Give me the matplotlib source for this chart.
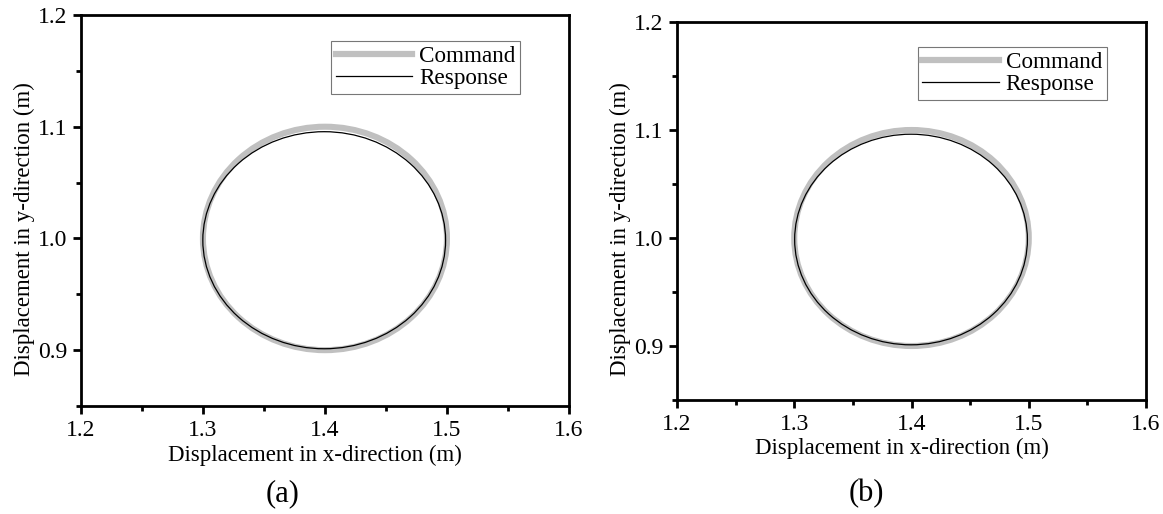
import matplotlib.pyplot as plt
from matplotlib.patches import Ellipse
from matplotlib.lines import Line2D
from matplotlib.ticker import MultipleLocator

plt.rcParams['font.family'] = ['Liberation Serif', 'DejaVu Serif']

# trajectory ellipses: center x, center y, width, height (m)
command = [1.400, 1.000, 0.200, 0.200]
response_a = [1.3994, 0.9984, 0.1990, 0.1943]
response_b = [1.3996, 0.9986, 0.1985, 0.1950]
panel_labels = ['(a)', '(b)']
x_ticks = [1.2, 1.3, 1.4, 1.5, 1.6]
y_ticks = [0.9, 1.0, 1.1, 1.2]

fig = plt.figure(figsize=(11.63, 5.14), dpi=100)
ax_a = fig.add_axes([0.0696, 0.2101, 0.4196, 0.7607])
ax_b = fig.add_axes([0.5821, 0.2218, 0.4033, 0.7354])

for ax, resp, ylab_x in [(ax_a, response_a, -0.094), (ax_b, response_b, -0.098)]:
    ax.add_patch(Ellipse((command[0], command[1]), command[2], command[3],
                         fill=False, edgecolor='#c0c0c0', linewidth=4.4, zorder=2))
    ax.add_patch(Ellipse((resp[0], resp[1]), resp[2], resp[3],
                         fill=False, edgecolor='black', linewidth=0.9, zorder=3))
    ax.set_xlim(1.2, 1.6)
    ax.set_ylim(0.85, 1.2)
    ax.set_xticks(x_ticks)
    ax.set_yticks(y_ticks)
    ax.set_xticklabels([f'{v:.1f}' for v in x_ticks])
    ax.set_yticklabels([f'{v:.1f}' for v in y_ticks])
    ax.xaxis.set_minor_locator(MultipleLocator(0.05))
    ax.yaxis.set_minor_locator(MultipleLocator(0.05))
    ax.tick_params(which='major', direction='out', length=6, width=2, labelsize=17,
                   top=False, right=False, pad=4)
    ax.tick_params(which='minor', direction='out', length=3.5, width=2,
                   top=False, right=False)
    for s in ax.spines.values():
        s.set_linewidth(2)
    ax.set_xlabel('Displacement in x-direction (m)', fontsize=16.5)
    ax.set_ylabel('Displacement in y-direction (m)', fontsize=16.5)
    ax.xaxis.set_label_coords(0.48, -0.10)
    ax.yaxis.set_label_coords(ylab_x, 0.452)
    handles = [Line2D([], [], color='#c0c0c0', linewidth=4.5),
               Line2D([], [], color='black', linewidth=0.9)]
    leg = ax.legend(handles, ['Command', 'Response'], loc='upper left',
                    bbox_to_anchor=(0.513, 0.934), fontsize=16.7, frameon=True,
                    fancybox=False, edgecolor='#555555', handlelength=3.3,
                    handletextpad=0.3, borderpad=0.2, labelspacing=0.05,
                    borderaxespad=0)
    leg.get_frame().set_linewidth(0.8)

fig.text(0.243, 0.039, panel_labels[0], fontsize=22, ha='center', va='center')
fig.text(0.745, 0.039, panel_labels[1], fontsize=22, ha='center', va='center')

fig.savefig('out.png', dpi=100)
